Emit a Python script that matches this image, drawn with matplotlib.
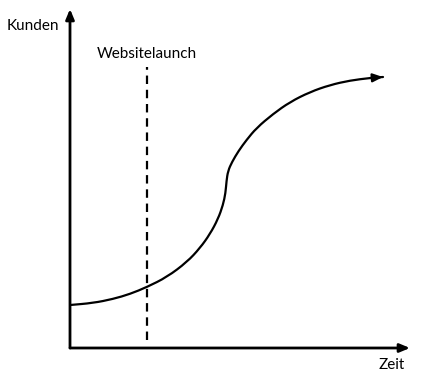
import matplotlib
matplotlib.use("Agg")
import matplotlib.pyplot as plt
from matplotlib.path import Path
from matplotlib.patches import PathPatch

plt.rcParams['font.family'] = ['Lato', 'DejaVu Sans']

# Curve (time 0..100, customers 0..100)
zeit = [0.0, 6.76, 12.65, 17.65, 22.65, 28.53, 34.41, 38.24, 41.18, 43.53, 45.0,
        45.74, 46.03, 46.47, 47.65, 49.56, 51.91, 54.85, 59.71, 64.71, 70.59,
        76.47, 82.35, 88.24, 92.06]
kunden = [12.68, 13.27, 14.45, 15.93, 17.99, 20.94, 25.37, 29.50, 33.63, 38.05,
          42.18, 45.72, 49.26, 52.21, 54.87, 58.11, 61.36, 64.90, 69.03, 72.57,
          75.52, 77.58, 78.91, 79.65, 79.94]
launch_x = 22.6
launch_y = [2.4, 82.9]
launch_label = "Websitelaunch"
x_label = "Zeit"
y_label = "Kunden"

fig = plt.figure(figsize=(4.27, 3.79), dpi=100)
ax = fig.add_axes([70/427, 31/379, 340/427, 339/379])
ax.set_xlim(0, 100)
ax.set_ylim(0, 100)
ax.axis('off')

head = '-|>,head_length=0.6,head_width=0.25'
# axes with arrows
ax.annotate('', xy=(1, 0), xytext=(0, 0), xycoords='axes fraction',
            arrowprops=dict(arrowstyle=head, lw=2, color='black', shrinkA=0, shrinkB=0))
ax.annotate('', xy=(0, 1), xytext=(0, 0), xycoords='axes fraction',
            arrowprops=dict(arrowstyle=head, lw=2, color='black', shrinkA=0, shrinkB=0))

# smooth curve: quadratic Bezier segments using the read points as controls
pts = list(zip(zeit, kunden))
verts = [pts[0]]
codes = [Path.MOVETO]
mid = lambda a, b: ((a[0] + b[0]) / 2, (a[1] + b[1]) / 2)
verts.append(mid(pts[0], pts[1])); codes.append(Path.LINETO)
for i in range(1, len(pts) - 1):
    verts += [pts[i], mid(pts[i], pts[i + 1])]
    codes += [Path.CURVE3, Path.CURVE3]
verts.append(pts[-1]); codes.append(Path.LINETO)
ax.add_patch(PathPatch(Path(verts, codes), facecolor='none', edgecolor='black',
                       lw=1.6, capstyle='round', joinstyle='round'))
ax.annotate('', xy=pts[-1], xytext=pts[-2],
            arrowprops=dict(arrowstyle=head, lw=1.6, color='black', shrinkA=0, shrinkB=0))

# launch line
ax.plot([launch_x, launch_x], launch_y, color='black', lw=1.6,
        linestyle=(0, (3.8, 2.6)))
ax.text(launch_x, 86.8, launch_label, ha='center', va='center', fontsize=11)

ax.text(-0.11, 0.95, y_label, transform=ax.transAxes, ha='center', va='center',
        fontsize=11, clip_on=False)
ax.text(0.945, -0.05, x_label, transform=ax.transAxes, ha='center', va='center',
        fontsize=11, clip_on=False)

fig.savefig("out.png", dpi=100)
